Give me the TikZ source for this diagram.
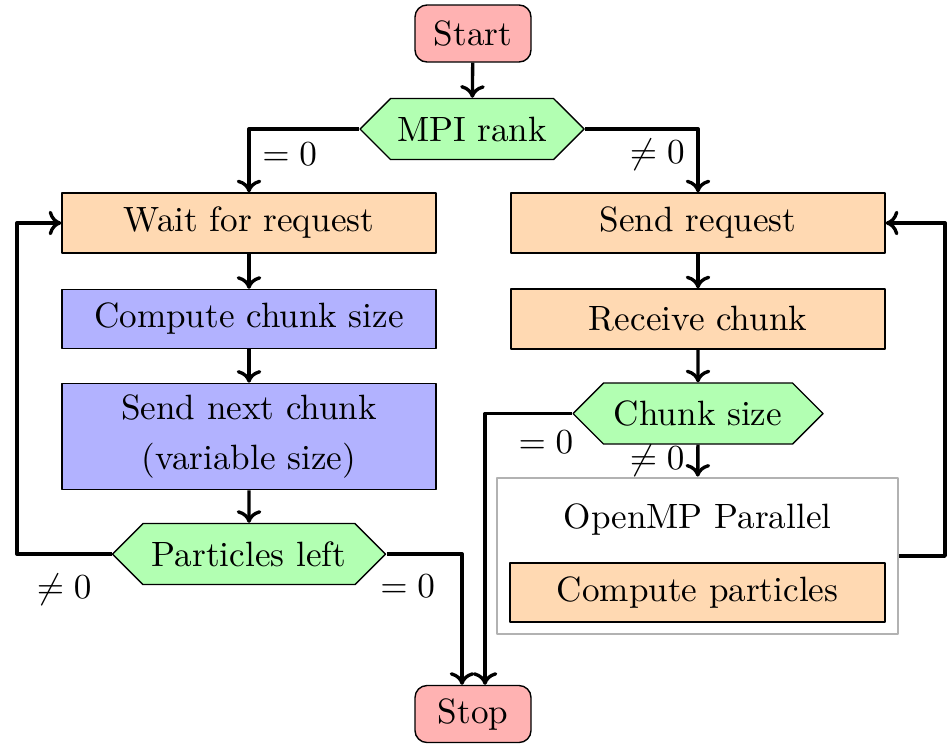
\documentclass[tikz,border=0pt]{standalone}
\usepackage{amsmath,amssymb}
\usepackage{tikz}
\usetikzlibrary{shapes.symbols,arrows.meta,calc}

\begin{document}
\begin{tikzpicture}[>={To[length=3.6pt,width=7pt]}, line join=round,
    term/.style={draw,rounded corners=0.12cm,fill=red!30,minimum width=1.16cm,minimum height=0.57cm},
    decide/.style={draw,signal,signal to=west and east,fill=green!30,minimum height=0.61cm,inner xsep=1pt},
    work/.style={draw,fill=orange!30,minimum width=3.74cm,minimum height=0.60cm},
    calcbox/.style={draw,fill=blue!30,minimum width=3.74cm,minimum height=0.59cm,align=center},
    flow/.style={line width=0.95pt,->}]
  \useasboundingbox (0,0) rectangle (9.48,-7.44);
  % start / stop and first branch
  \node[term] (start) at (4.730,-0.335) {Start};
  \node[decide,minimum width=2.24cm] (rank) at (4.720,-1.290) {MPI rank};
  \node[term] (stop) at (4.730,-7.140) {Stop};
  % master side
  \node[work] (wait) at (2.490,-2.230) {Wait for request};
  \node[calcbox] (csize) at (2.490,-3.190) {Compute chunk size};
  \node[calcbox,minimum height=1.03cm] (next) at (2.490,-4.365) {Send next chunk\\[2pt](variable size)};
  \node[decide,minimum width=2.73cm] (left) at (2.490,-5.540) {Particles left};
  % worker side
  \node[work] (sendreq) at (6.980,-2.230) {Send request};
  \node[work] (recv) at (6.980,-3.190) {Receive chunk};
  \node[decide,minimum width=2.50cm] (chunk) at (6.980,-4.135) {Chunk size};
  \node[draw=gray!60,thick,minimum width=4.01cm,minimum height=1.56cm] (omp) at (6.975,-5.560) {};
  \node (omptxt) at (6.975,-5.190) {OpenMP Parallel};
  \node[work,minimum width=3.75cm,minimum height=0.59cm] (cpart) at (6.975,-5.925) {Compute particles};
  \coordinate (stopL) at ($(stop.north)+(-0.11,0)$);
  \coordinate (stopR) at ($(stop.north)+(0.12,0)$);
  \coordinate (loopL) at (0.170,-5.540);
  \coordinate (loopR) at (9.450,-5.540);
  % connectors
  \draw[flow] (start) -- (rank);
  \draw[flow] (rank.west) -| node[pos=0.7,right] {$=0$} (wait.north);
  \draw[flow] (rank.east) -| node[pos=0.7,left] {$\neq 0$} (sendreq.north);
  \draw[flow] (wait) -- (csize);
  \draw[flow] (csize) -- (next);
  \draw[flow] (next) -- (left);
  \draw[flow] (left.west) -- node[pos=0.5,below=2pt] {$\neq 0$} (loopL) |- (wait.west);
  \draw[flow] (left.east) -- node[pos=0.28,below=2pt] {$=0$} (left.east -| stopL) -- (stopL);
  \draw[flow] (sendreq) -- (recv);
  \draw[flow] (recv) -- (chunk);
  \draw[flow] (chunk.west) -- node[pos=0.3,below=1pt] {$=0$} (chunk.west -| stopR) -- (stopR);
  \draw[flow] (chunk) -- node[left] {$\neq 0$} (omp);
  \draw[flow] (omp.east) -- (omp.east -| loopR) |- (sendreq.east);
\end{tikzpicture}
\end{document}
